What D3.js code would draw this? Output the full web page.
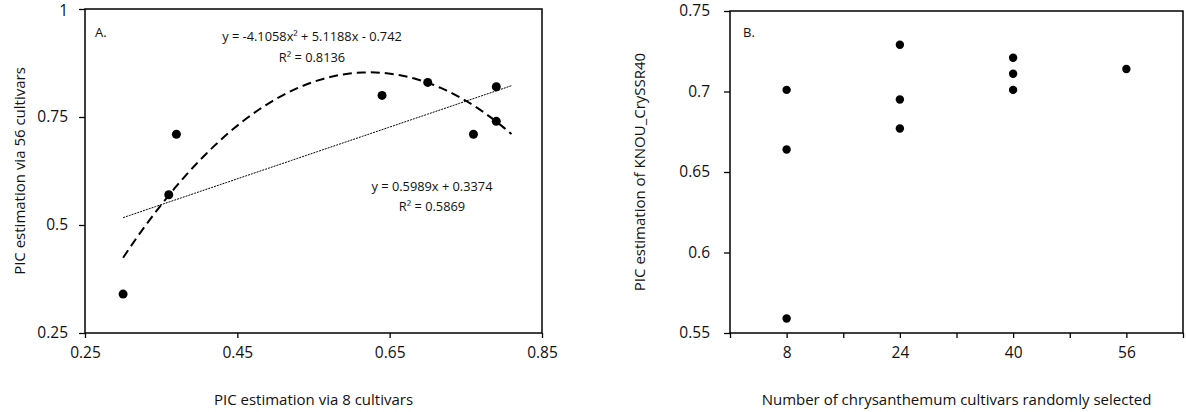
<!DOCTYPE html>
<html>
<head>
<meta charset="utf-8">
<script src="https://cdn.jsdelivr.net/npm/d3@7"></script>
<style>
  body { margin: 0; background: #fff; }
  svg { display: block; font-family: "Open Sans", sans-serif; }
</style>
</head>
<body>
<div id="chart"></div>
<script>
// Panel A: PIC via 8 cultivars vs PIC via 56 cultivars
var picVia8 = [0.30, 0.36, 0.37, 0.64, 0.70, 0.76, 0.79, 0.79];
var picVia56 = [0.34, 0.57, 0.71, 0.80, 0.83, 0.71, 0.82, 0.74];
var quadCoef = [-4.1058, 5.1188, -0.742];   // a x^2 + b x + c
var linCoef = [0.5989, 0.3374];             // m x + k
var trendRange = [0.30, 0.81];
var quadLabel = ["y = -4.1058x\u00B2 + 5.1188x - 0.742", "R\u00B2 = 0.8136"];
var linLabel = ["y = 0.5989x + 0.3374", "R\u00B2 = 0.5869"];
var ticksA = [0.25, 0.45, 0.65, 0.85];
var ticksAy = [0.25, 0.5, 0.75, 1];

// Panel B: number of cultivars vs PIC of KNOU_CrySSR40
var cultivarsN = [8, 8, 8, 24, 24, 24, 40, 40, 40, 56];
var picKnou = [0.701, 0.664, 0.559, 0.729, 0.695, 0.677, 0.721, 0.711, 0.701, 0.714];
var ticksB = [0, 8, 16, 24, 32, 40, 48, 56, 64];
var labelsB = [8, 24, 40, 56];
var ticksBy = [0.55, 0.6, 0.65, 0.7, 0.75];

var width = 1186, height = 412;
var svg = d3.select("#chart").append("svg")
  .attr("width", width)
  .attr("height", height);

function styleAxis(g, size) {
  g.attr("font-family", "Open Sans, sans-serif")
    .attr("font-size", size);
  g.select(".domain").remove();
  g.selectAll(".tick line").attr("stroke", "#000").attr("stroke-width", 1.3);
  g.selectAll(".tick text").attr("fill", "#111");
}

function frame(x, y) {
  svg.append("rect")
    .attr("x", x.range()[0])
    .attr("y", y.range()[1])
    .attr("width", x.range()[1] - x.range()[0])
    .attr("height", y.range()[0] - y.range()[1])
    .attr("fill", "none")
    .attr("stroke", "#000")
    .attr("stroke-width", 1.5);
}

// ---------- panel A ----------
var xA = d3.scaleLinear().domain([0.25, 0.85]).range([85, 542]);
var yA = d3.scaleLinear().domain([0.25, 1]).range([333, 9]);

svg.append("g")
  .attr("transform", "translate(0," + yA.range()[0] + ")")
  .call(d3.axisBottom(xA).tickValues(ticksA).tickSize(5).tickPadding(9).tickSizeOuter(0)
    .tickFormat(d3.format(".2f")))
  .call(styleAxis, 15.5);

var yAxisA = svg.append("g")
  .attr("transform", "translate(" + xA.range()[0] + ",0)")
  .call(d3.axisLeft(yA).tickValues(ticksAy).tickSize(6).tickPadding(11).tickSizeOuter(0)
    .tickFormat(function(d) { return d3.format("")(d); }))
  .call(styleAxis, 15.5);
// keep the top label inside the picture
yAxisA.selectAll(".tick text").filter(function(d) { return d === 1; }).attr("dy", "0.45em");

frame(xA, yA);

var trendX = d3.range(0, 61).map(function(i) {
  return trendRange[0] + (trendRange[1] - trendRange[0]) * i / 60;
});

var quadLine = d3.line()
  .x(function(d) { return xA(d); })
  .y(function(d) { return yA(quadCoef[0] * d * d + quadCoef[1] * d + quadCoef[2]); });
var linLine = d3.line()
  .x(function(d) { return xA(d); })
  .y(function(d) { return yA(linCoef[0] * d + linCoef[1]); });

svg.append("path")
  .datum(trendX)
  .attr("fill", "none")
  .attr("stroke", "#000")
  .attr("stroke-width", 2)
  .attr("stroke-dasharray", "9,5")
  .attr("d", quadLine);

svg.append("path")
  .datum(trendX)
  .attr("fill", "none")
  .attr("stroke", "#000")
  .attr("stroke-width", 1)
  .attr("stroke-dasharray", "2,1")
  .attr("d", linLine);

svg.append("g").selectAll("circle")
  .data(picVia8)
  .enter().append("circle")
    .attr("cx", function(d) { return xA(d); })
    .attr("cy", function(d, i) { return yA(picVia56[i]); })
    .attr("r", 4.5)
    .attr("fill", "#000");

svg.append("g").selectAll("text")
  .data(quadLabel)
  .enter().append("text")
    .attr("x", 312)
    .attr("y", function(d, i) { return 41 + i * 21; })
    .attr("text-anchor", "middle")
    .attr("font-size", 12.8)
    .attr("fill", "#111")
    .text(function(d) { return d; });

svg.append("g").selectAll("text")
  .data(linLabel)
  .enter().append("text")
    .attr("x", 432)
    .attr("y", function(d, i) { return 191 + i * 20; })
    .attr("text-anchor", "middle")
    .attr("font-size", 12.8)
    .attr("fill", "#111")
    .text(function(d) { return d; });

svg.append("text")
  .attr("x", 95).attr("y", 37)
  .attr("font-size", 13)
  .attr("fill", "#111")
  .text("A.");

svg.append("text")
  .attr("x", (xA.range()[0] + xA.range()[1]) / 2)
  .attr("y", 405)
  .attr("text-anchor", "middle")
  .attr("font-size", 15)
  .attr("fill", "#111")
  .text("PIC estimation via 8 cultivars");

svg.append("text")
  .attr("transform", "translate(25," + (yA.range()[0] + yA.range()[1]) / 2 + ") rotate(-90)")
  .attr("text-anchor", "middle")
  .attr("font-size", 15)
  .attr("fill", "#111")
  .text("PIC estimation via 56 cultivars");

// ---------- panel B ----------
var xB = d3.scaleLinear().domain([0, 64]).range([730, 1183]);
var yB = d3.scaleLinear().domain([0.55, 0.75]).range([333, 11]);

svg.append("g")
  .attr("transform", "translate(0," + yB.range()[0] + ")")
  .call(d3.axisBottom(xB).tickValues(ticksB).tickSize(5).tickPadding(9).tickSizeOuter(0)
    .tickFormat(function(d) { return labelsB.indexOf(d) >= 0 ? d : ""; }))
  .call(styleAxis, 15.5);

svg.append("g")
  .attr("transform", "translate(" + xB.range()[0] + ",0)")
  .call(d3.axisLeft(yB).tickValues(ticksBy).tickSize(6).tickPadding(14).tickSizeOuter(0)
    .tickFormat(function(d) { return d3.format("")(+d.toFixed(2)); }))
  .call(styleAxis, 15.5);

frame(xB, yB);

svg.append("g").selectAll("circle")
  .data(cultivarsN)
  .enter().append("circle")
    .attr("cx", function(d) { return xB(d); })
    .attr("cy", function(d, i) { return yB(picKnou[i]); })
    .attr("r", 4.2)
    .attr("fill", "#000");

svg.append("text")
  .attr("x", 743).attr("y", 37)
  .attr("font-size", 13)
  .attr("fill", "#111")
  .text("B.");

svg.append("text")
  .attr("x", (xB.range()[0] + xB.range()[1]) / 2)
  .attr("y", 405)
  .attr("text-anchor", "middle")
  .attr("font-size", 15)
  .attr("fill", "#111")
  .text("Number of chrysanthemum cultivars randomly selected");

svg.append("text")
  .attr("transform", "translate(645," + (yB.range()[0] + yB.range()[1]) / 2 + ") rotate(-90)")
  .attr("text-anchor", "middle")
  .attr("font-size", 15)
  .attr("fill", "#111")
  .text("PIC estimation of KNOU_CrySSR40");
</script>
</body>
</html>
